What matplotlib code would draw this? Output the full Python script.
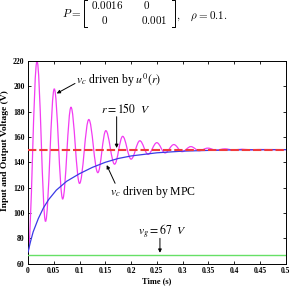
import matplotlib
matplotlib.use('Agg')
import matplotlib.pyplot as plt
from matplotlib.path import Path
from matplotlib.patches import PathPatch

plt.rcParams['font.family'] = 'serif'
plt.rcParams['font.serif'] = ['Liberation Serif', 'DejaVu Serif']
plt.rcParams['mathtext.fontset'] = 'stix'

# vc driven by u0(r): extremos de la oscilacion (tiempo, voltaje)
t_u0 = [0, 0.0175, 0.034, 0.051, 0.0673, 0.0834, 0.1, 0.118, 0.1355, 0.151,
        0.168, 0.1837, 0.2, 0.217, 0.233, 0.25, 0.266, 0.283, 0.299, 0.316,
        0.332, 0.349, 0.365, 0.382, 0.398, 0.415, 0.431, 0.448, 0.5]
v_u0 = [69, 220, 93.3, 198, 111, 183.5, 123.3, 173.8, 131.8, 165,
        138.5, 160.5, 142.5, 157, 146.3, 155.5, 147.4, 154, 148.4, 152.4,
        149.2, 151.2, 149.6, 150.6, 149.8, 150.3, 149.9, 150.1, 150]

# vc driven by MPC
t_mpc = [0, 0.005, 0.01, 0.02, 0.03, 0.04, 0.055, 0.075, 0.1, 0.125, 0.15,
         0.175, 0.2, 0.25, 0.3, 0.35, 0.4, 0.5]
v_mpc = [69, 77.5, 85, 95.5, 104, 110.5, 118, 125, 131, 136, 140,
         143, 145, 147.5, 148.8, 149.4, 149.8, 150]

v_ref = 150
v_g = 67

xticks = [0, 0.05, 0.1, 0.15, 0.2, 0.25, 0.3, 0.35, 0.4, 0.45, 0.5]
xticklabels = ['0', '0.05', '0.1', '0.15', '0.2', '0.25', '0.3', '0.35', '0.4', '0.45', '0.5']
yticks = [60, 80, 100, 120, 140, 160, 180, 200, 220]


# curva suave entre extremos (tangente horizontal en cada extremo)
def curvaExtremos(t, v, a=0.363):
    verts = [(t[0], v[0])]
    codes = [Path.MOVETO]
    for i in range(1, len(t)):
        dt = t[i] - t[i - 1]
        verts += [(t[i - 1] + a * dt, v[i - 1]), (t[i] - a * dt, v[i]), (t[i], v[i])]
        codes += [Path.CURVE4] * 3
    return Path(verts, codes)


fig = plt.figure(figsize=(2.91, 2.88), dpi=100)
ax = fig.add_axes([0.0962, 0.085, 0.8856, 0.703])

ax.add_patch(PathPatch(curvaExtremos(t_u0, v_u0), facecolor='none',
                       edgecolor='#f23cf2', lw=0.9, zorder=2))
ax.plot(t_mpc, v_mpc, color='#3a3ae6', lw=0.9, zorder=3)
ax.axhline(v_g, color='#66e066', lw=1.0, zorder=3)
ax.axhline(v_ref, color='#f03a3a', lw=1.5, dashes=(4, 1.4), zorder=4)

ax.set_xlim(0, 0.5)
ax.set_ylim(60, 220)
ax.set_xticks(xticks)
ax.set_xticklabels(xticklabels)
ax.set_yticks(yticks)
ax.tick_params(direction='in', top=True, right=True, length=2.5, width=0.6,
               labelsize=5.5, pad=2.5)
for lab in ax.get_xticklabels() + ax.get_yticklabels():
    lab.set_fontweight('bold')
for s in ax.spines.values():
    s.set_linewidth(0.7)

ax.set_xlabel('Time (s)', fontsize=6, fontweight='bold', labelpad=1.5)
ax.set_ylabel('Input and Output Voltage (V)', fontsize=6.8, fontweight='bold')
ax.yaxis.set_label_coords(-0.075, 0.56)

# anotaciones
fs = 8.5
flecha = dict(arrowstyle='-|>', color='k', lw=0.7, mutation_scale=5, shrinkA=0, shrinkB=0)
ax.text(0.094, 205, r'$v_c$ driven by $u^0\left(r\right)$', fontsize=fs, va='center')
ax.annotate('', xy=(0.0557, 194.4), xytext=(0.0912, 202.3), arrowprops=flecha)
ax.text(0.1416, 182.5, r'$r=150\ \ V$', fontsize=fs, va='center')
ax.annotate('', xy=(0.172, 151.3), xytext=(0.172, 176), arrowprops=flecha)
ax.text(0.159, 116.7, r'$v_c$ driven by MPC', fontsize=fs, va='center')
ax.annotate('', xy=(0.1527, 137.8), xytext=(0.169, 123.4), arrowprops=flecha)
ax.text(0.2134, 85.1, r'$v_g=67\ \ V$', fontsize=fs, va='center')
ax.annotate('', xy=(0.256, 68.5), xytext=(0.256, 79.9), arrowprops=flecha)

# formula superior
W, H = 291.0, 288.0
ff = 8
fig.text(81 / W, 1 - 13 / H, r'$P=$', fontsize=ff, ha='right', va='center', math_fontfamily='cm')
fig.text(107 / W, 1 - 5 / H, r'$0.0016$', fontsize=ff, ha='center', va='center', math_fontfamily='cm')
fig.text(147 / W, 1 - 5 / H, r'$0$', fontsize=ff, ha='center', va='center', math_fontfamily='cm')
fig.text(105 / W, 1 - 20.5 / H, r'$0$', fontsize=ff, ha='center', va='center', math_fontfamily='cm')
fig.text(154 / W, 1 - 20.5 / H, r'$0.001$', fontsize=ff, ha='center', va='center', math_fontfamily='cm')
fig.text(176 / W, 1 - 16 / H, r'$,\quad\rho=0.1.$', fontsize=ff, ha='left', va='center', math_fontfamily='cm')
for xb, d in [(84, 2.5), (174.5, -2.5)]:
    fig.add_artist(plt.Line2D([(xb + d) / W, xb / W, xb / W, (xb + d) / W],
                              [1 - 0 / H, 1 - 0 / H, 1 - 27 / H, 1 - 27 / H],
                              color='k', lw=0.7))

fig.savefig('out.png', dpi=100)
